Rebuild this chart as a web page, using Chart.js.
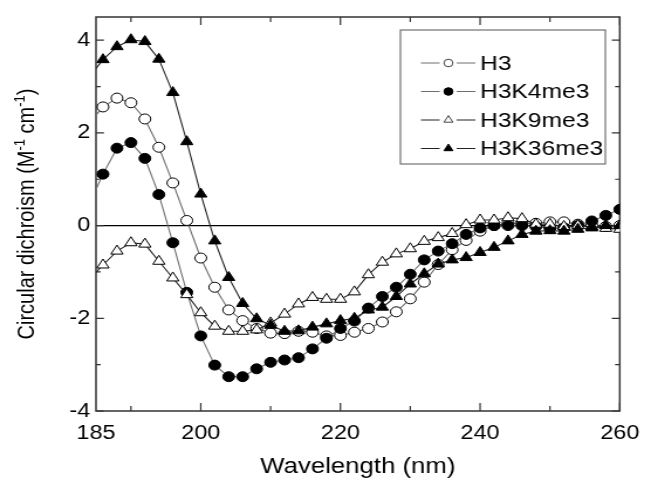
<!DOCTYPE html>
<html>
<head>
<meta charset="utf-8">
<script src="https://cdn.jsdelivr.net/npm/chart.js@4.4.0/dist/chart.umd.min.js"></script>
<style>
html,body{margin:0;padding:0;background:#fff;overflow:hidden}
canvas{display:block}
</style>
</head>
<body>
<canvas id="c" width="556" height="482" style="width:651px;height:482px"></canvas>
<script>
// ---- data ----
const wavelengths = [184,186,188,190,192,194,196,198,200,202,204,206,208,210,212,214,216,218,220,222,224,226,228,230,232,234,236,238,240,242,244,246,248,250,252,254,256,258,260];
const seriesLabels = ['H3','H3K4me3','H3K9me3','H3K36me3'];
const h3 =       [2.20,2.56,2.75,2.65,2.30,1.69,0.92,0.11,-0.70,-1.33,-1.82,-2.05,-2.22,-2.32,-2.33,-2.28,-2.30,-2.38,-2.37,-2.30,-2.22,-2.08,-1.86,-1.58,-1.22,-0.84,-0.52,-0.32,-0.12,0.00,0.05,0.05,0.05,0.08,0.08,0.03,0.00,-0.02,0.00];
const h3k4me3 =  [0.45,1.11,1.67,1.79,1.45,0.67,-0.37,-1.44,-2.38,-3.01,-3.26,-3.26,-3.09,-2.95,-2.90,-2.85,-2.66,-2.43,-2.22,-2.06,-1.78,-1.53,-1.33,-1.05,-0.74,-0.55,-0.39,-0.19,-0.05,0.00,0.00,0.00,-0.02,-0.06,-0.05,0.00,0.10,0.22,0.35];
const h3k9me3 =  [-1.17,-0.85,-0.55,-0.37,-0.40,-0.77,-1.13,-1.49,-1.88,-2.17,-2.28,-2.28,-2.25,-2.10,-1.91,-1.69,-1.55,-1.59,-1.59,-1.43,-1.06,-0.79,-0.61,-0.50,-0.34,-0.26,-0.17,0.02,0.12,0.12,0.17,0.15,0.03,0.03,-0.02,0.00,-0.03,-0.06,-0.08];
const h3k36me3 = [3.20,3.58,3.86,4.01,3.97,3.59,2.87,1.81,0.68,-0.33,-1.12,-1.68,-2.01,-2.15,-2.28,-2.27,-2.19,-2.12,-2.05,-2.00,-1.82,-1.76,-1.53,-1.26,-1.04,-0.83,-0.74,-0.69,-0.58,-0.47,-0.33,-0.19,-0.12,-0.11,-0.12,-0.08,-0.05,0.00,0.00];
const xTickLabels = [185,200,220,240,260];
const xTickMarks = [190,200,210,220,230,240,250,260];
const xMajorMarks = [200,220,240,260];
const yTickLabels = [-4,-2,0,2,4];
const yTickMarks = [-4,-3,-2,-1,0,1,2,3,4];
const xTitle = 'Wavelength (nm)';
const yTitleParts = [['Circular dichroism (M',0],['-1',1],[' cm',0],['-1',1],[')',0]];

// ---- styling ----
const FONT = "'Liberation Sans', Arial, Helvetica, sans-serif";
const GRAY_LINE = '#6e6e6e';
const DARK_LINE = '#222';

function makeSet(i, values, style, filled, lineColor, order) {
  return {
    label: seriesLabels[i],
    data: wavelengths.map((x, j) => ({x: x, y: values[j]})),
    borderColor: lineColor,
    borderWidth: 1.1,
    pointStyle: style,
    pointRadius: style === 'triangle' ? 6 : 5,
    pointBackgroundColor: filled ? '#000' : '#fff',
    pointBorderColor: '#000',
    pointBorderWidth: 1,
    tension: 0,
    fill: false,
    order: order,
    _filled: filled
  };
}

const datasets = [
  makeSet(0, h3, 'circle', false, GRAY_LINE, 4),
  makeSet(1, h3k4me3, 'circle', true, GRAY_LINE, 3),
  makeSet(2, h3k9me3, 'triangle', false, DARK_LINE, 2),
  makeSet(3, h3k36me3, 'triangle', true, DARK_LINE, 1)
];

const decor = {
  id: 'decor',
  beforeDatasetsDraw(chart) {
    const {ctx, chartArea: a, scales: {x, y}} = chart;
    ctx.save();
    ctx.strokeStyle = '#333';
    ctx.lineWidth = 1.5;
    ctx.strokeRect(a.left, a.top, a.right - a.left, a.bottom - a.top);
    ctx.lineWidth = 1.2;
    ctx.beginPath();
    xTickMarks.forEach(v => {
      const px = x.getPixelForValue(v);
      const L = xMajorMarks.includes(v) ? 8 : 5;
      ctx.moveTo(px, a.bottom); ctx.lineTo(px, a.bottom - L);
      ctx.moveTo(px, a.top); ctx.lineTo(px, a.top + L);
    });
    yTickMarks.forEach(v => {
      const py = y.getPixelForValue(v);
      const L = yTickLabels.includes(v) ? 6.8 : 4;
      ctx.moveTo(a.left, py); ctx.lineTo(a.left + L, py);
      ctx.moveTo(a.right, py); ctx.lineTo(a.right - L, py);
    });
    ctx.stroke();
    ctx.restore();
  },
  afterDraw(chart) {
    const {ctx, chartArea: a} = chart;
    // y axis title with superscripts
    ctx.save();
    ctx.translate(21.5, (a.top + a.bottom) / 2);
    ctx.rotate(-Math.PI / 2);
    ctx.fillStyle = '#000';
    ctx.textBaseline = 'alphabetic';
    const mainFont = '20px ' + FONT, supFont = '13px ' + FONT;
    let total = 0;
    yTitleParts.forEach(p => { ctx.font = p[1] ? supFont : mainFont; total += ctx.measureText(p[0]).width; });
    let cx = -total / 2;
    yTitleParts.forEach(p => {
      ctx.font = p[1] ? supFont : mainFont;
      ctx.fillText(p[0], cx, p[1] ? -1 : 7);
      cx += ctx.measureText(p[0]).width;
    });
    ctx.restore();

    // legend box
    const box = {left: 342, top: 30, right: 517, bottom: 164};
    const rows = [63, 91.5, 120, 148.5];
    ctx.save();
    ctx.fillStyle = '#fff';
    ctx.fillRect(box.left, box.top, box.right - box.left, box.bottom - box.top);
    ctx.strokeStyle = '#555';
    ctx.lineWidth = 1;
    ctx.strokeRect(box.left, box.top, box.right - box.left, box.bottom - box.top);
    chart.data.datasets.forEach((ds, i) => {
      const yy = rows[i];
      ctx.strokeStyle = ds.borderColor;
      ctx.lineWidth = 1;
      ctx.beginPath();
      ctx.moveTo(359.5, yy); ctx.lineTo(375.5, yy);
      ctx.moveTo(390, yy); ctx.lineTo(406, yy);
      ctx.stroke();
      ctx.fillStyle = ds._filled ? '#000' : '#fff';
      ctx.strokeStyle = ds._filled ? '#000' : '#444';
      Chart.helpers.drawPoint(ctx, {pointStyle: ds.pointStyle, radius: ds.pointStyle === 'triangle' ? 4.4 : 3.8, rotation: 0, borderWidth: 0.8}, 383, yy);
      ctx.fillStyle = '#000';
      ctx.font = '21px ' + FONT;
      ctx.textBaseline = 'middle';
      ctx.textAlign = 'left';
      ctx.fillText(ds.label, 410, yy + 1);
    });
    ctx.restore();
  }
};

new Chart(document.getElementById('c'), {
  type: 'line',
  data: {datasets: datasets},
  plugins: [decor],
  options: {
    responsive: false,
    devicePixelRatio: 1,
    animation: false,
    layout: {padding: {left: 0, right: 17.5, top: 14, bottom: 0}},
    plugins: {legend: {display: false}, tooltip: {enabled: false}},
    scales: {
      x: {
        type: 'linear', min: 185, max: 260,
        afterBuildTicks: s => { s.ticks = xTickLabels.map(v => ({value: v})); },
        afterFit: s => { s.height = 71; },
        grid: {display: false, drawTicks: false},
        border: {display: false},
        ticks: {font: {family: FONT, size: 20}, color: '#000', padding: 10, autoSkip: false, maxRotation: 0, callback: v => String(v)},
        title: {display: true, text: xTitle, font: {family: FONT, size: 22}, color: '#000', padding: {top: 0, bottom: 2}}
      },
      y: {
        type: 'linear', min: -4, max: 4.5,
        afterBuildTicks: s => { s.ticks = yTickLabels.map(v => ({value: v})); },
        afterFit: s => { s.width = 82; },
        grid: {drawTicks: false, lineWidth: 1.2, color: c => (c.tick && c.tick.value === 0) ? '#000' : 'rgba(0,0,0,0)'},
        border: {display: false},
        ticks: {font: {family: FONT, size: 20}, color: '#000', padding: 5, callback: v => String(v)}
      }
    }
  }
});
</script>
</body>
</html>
